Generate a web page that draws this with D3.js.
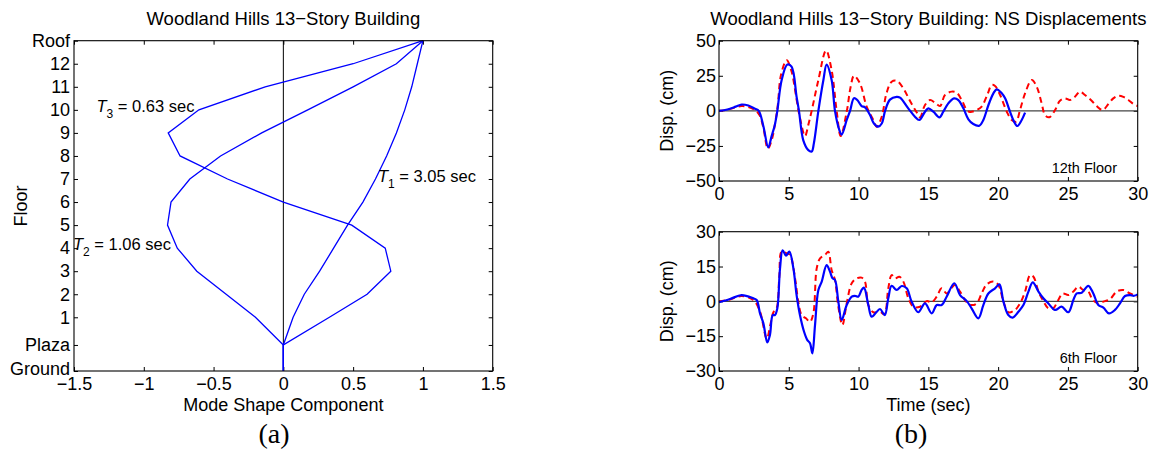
<!DOCTYPE html>
<html>
<head>
<meta charset="utf-8">
<script src="https://cdn.jsdelivr.net/npm/d3@7"></script>
<style>
  html, body { margin: 0; padding: 0; background: #fff; }
  svg { display: block; }
</style>
</head>
<body>
<svg id="fig" width="1154" height="450"></svg>
<script>
// ---------- (a) mode shapes ----------
const levelNames   = ["Ground", "Plaza", "1", "2", "3", "4", "5", "6", "7", "8", "9", "10", "11", "12", "Roof"];
const levelHeights = [-1.33, -0.2, 1, 2, 3, 4, 5, 6, 7, 8, 9, 10, 11, 12, 13];
const mode1 = [0, 0, 0.07, 0.15, 0.26, 0.36, 0.46, 0.57, 0.66, 0.74, 0.81, 0.87, 0.92, 0.96, 1.0];
const mode2 = [0, 0, -0.2, -0.41, -0.62, -0.76, -0.83, -0.805, -0.67, -0.45, -0.155, 0.175, 0.5, 0.81, 1.0];
const mode3 = [0, 0, 0.33, 0.6, 0.77, 0.73, 0.49, 0, -0.4, -0.74, -0.825, -0.605, -0.13, 0.5, 1.0];
const modeTicks  = [-1.5, -1, -0.5, 0, 0.5, 1, 1.5];
const modeLabels = ["\u22121.5", "\u22121", "\u22120.5", "0", "0.5", "1", "1.5"];

// ---------- (b) displacement histories ----------
const timeTicks  = [0, 5, 10, 15, 20, 25, 30];
const timeLabels = ["0", "5", "10", "15", "20", "25", "30"];
const disp12Ticks  = [-50, -25, 0, 25, 50];
const disp12Labels = ["\u221250", "\u221225", "0", "25", "50"];
const disp6Ticks   = [-30, -15, 0, 15, 30];
const disp6Labels  = ["\u221230", "\u221215", "0", "15", "30"];

// 12th floor, recorded (solid)
const t12Rec = [0, 0.6, 1.2, 1.62, 2.1, 2.58, 2.85, 3.18, 3.53, 3.77, 4.0, 4.18, 4.49, 4.9, 5.2, 5.56, 5.73, 6.04, 6.4, 6.64, 6.8, 7.12, 7.48, 7.71, 8.07, 8.31, 8.62, 8.79, 9.15, 9.39, 9.67, 9.91, 10.22, 10.46, 10.82, 11.1, 11.41, 11.66, 11.9, 12.25, 12.73, 12.97, 13.56, 14.04, 14.35, 14.76, 15.0, 15.36, 15.79, 16.07, 16.43, 16.84, 17.15, 17.51, 17.87, 18.22, 18.65, 18.94, 19.3, 19.66, 19.9, 20.26, 20.5, 20.85, 21.14, 21.38, 21.69, 21.93];
const d12Rec = [0, 1, 3, 4.5, 3.8, 1.5, 0, -11, -26, -18, -10, 0, 22, 33, 31.5, 10, 0, -21, -28, -29, -23, 0, 22, 33, 22, 0, -13.6, -17, -6.5, 0, 9, 7.7, 3.4, 2.5, -3, -9, -11.3, -9, 0, 8, 10, 9.4, 1.8, -4.2, -6.5, -0.6, 1.8, -0.6, -4.6, -0.6, 5.3, 8.9, 7.7, 1.8, -6, -9.4, -10.6, -6.5, 4, 12.5, 15.3, 12.5, 8.9, -0.6, -7.7, -10.8, -6.5, -1.3];
// 12th floor, model (dashed)
const t12Mod = [0, 0.6, 1.2, 1.62, 2.1, 2.58, 2.9, 3.18, 3.5, 3.8, 4.0, 4.2, 4.45, 4.85, 5.2, 5.56, 5.8, 6.16, 6.4, 6.64, 7.12, 7.67, 8.07, 8.43, 8.72, 9.15, 9.43, 9.67, 10.1, 10.58, 11.06, 11.3, 11.66, 12.0, 12.37, 12.73, 13.21, 13.69, 14.16, 14.4, 14.76, 15.12, 15.48, 15.84, 16.19, 16.67, 17.03, 17.39, 17.75, 17.99, 18.46, 18.82, 19.22, 19.54, 19.78, 20.14, 20.62, 20.97, 21.28, 21.57, 21.93, 22.41, 22.77, 23.12, 23.36, 23.67, 24.08, 24.43, 24.79, 25.15, 25.5, 25.86, 26.22, 26.7, 27.06, 27.49, 27.9, 28.25, 28.61, 28.97, 29.33, 29.69, 30];
const d12Mod = [0, 0.8, 2.5, 3.4, 2.8, 0.6, -3, -12, -27, -20, -10, 3, 26, 36, 28, 8, -5, -18, -10, 0, 22, 43, 29, 0, -18, -0.6, 17, 25, 19.6, 3, -6.5, -11.3, -4.2, 12.5, 20.8, 21.5, 16, 7, -1, -4.5, 4.2, 7.7, 5.8, 3.4, 11.3, 13.7, 12.9, 7.7, 0.6, -0.8, 0.6, 3, 11.3, 18.4, 17.7, 11.3, -0.6, -6.5, -7.7, 0.6, 12.5, 22, 17, 5.3, -3, -4.6, 0.6, 7.2, 8.9, 7.7, 10, 13.7, 11.3, 7.2, 3.4, 0.6, 4.9, 8.9, 10.8, 10, 7.7, 4.9, 3.4];

// 6th floor, recorded (solid)
const t6Rec = [0, 0.79, 1.62, 2.46, 2.7, 2.94, 3.18, 3.46, 3.65, 3.85, 4.01, 4.18, 4.37, 4.56, 4.8, 5.04, 5.33, 5.56, 5.8, 6.09, 6.33, 6.52, 6.69, 6.88, 7.12, 7.36, 7.71, 7.95, 8.14, 8.31, 8.55, 8.79, 9.15, 9.51, 9.74, 9.98, 10.22, 10.39, 10.7, 10.94, 11.3, 11.54, 11.77, 11.89, 12.13, 12.37, 12.73, 13.09, 13.45, 13.8, 14.28, 14.76, 15.24, 15.6, 15.95, 16.31, 16.86, 17.27, 17.75, 18.1, 18.58, 18.94, 19.3, 19.78, 20.09, 20.38, 20.73, 21.04, 21.45, 21.81, 22.17, 22.48, 22.89, 23.24, 23.6, 24.08, 24.55, 25.03, 25.39, 25.63, 25.99, 26.46, 26.82, 27.18, 27.54, 27.94, 28.37, 28.73, 29.09, 29.45, 29.74, 30];
const d6Rec = [-0.4, 1, 2.7, 1.3, 0.6, -5.2, -9.5, -17.7, -14.5, -5.9, -5.9, -3, 14, 22, 19.7, 21.4, 14.2, 2.7, -5.9, -13, -16.7, -18, -22.4, -10.2, 4.9, 8.5, 15.6, 12.8, 9.9, 9.2, -0.1, -8, -1.6, 2, 2.4, 2, 4.9, 5.9, -1.6, -6.6, -4.5, -3.3, -5.2, -5.9, 1.3, 6.7, 4.9, 6.6, 5.6, -0.1, -4.7, -0.9, -5.2, -1.6, -1.6, 2, 7.8, 2.7, 0.1, -3, -7.3, -1.6, 3.4, 5.6, 7.3, -0.1, -5.9, -7, -4.5, -1.6, 4.2, 8.2, 4.2, 1.3, -0.9, -3.7, -2.3, -4.7, 0.6, 3.4, 3.7, 6.7, 3.4, -1.6, -2.7, -5.2, -3.7, -0.9, 2.3, 2.7, 2.4, 3];
// 6th floor, model (dashed)
const t6Mod = [0, 0.79, 1.62, 2.46, 2.94, 3.42, 3.7, 3.9, 4.13, 4.32, 4.49, 4.85, 5.09, 5.45, 5.68, 5.92, 6.23, 6.52, 6.76, 7.0, 7.24, 7.6, 7.83, 8.07, 8.31, 8.55, 8.84, 9.15, 9.51, 9.86, 10.22, 10.46, 10.7, 11.06, 11.54, 11.85, 12.13, 12.37, 12.61, 12.92, 13.21, 13.57, 13.92, 14.4, 14.88, 15.24, 15.6, 15.95, 16.31, 16.67, 16.91, 17.27, 17.75, 18.1, 18.46, 18.82, 19.18, 19.66, 20.02, 20.38, 20.73, 21.21, 21.57, 21.93, 22.29, 22.53, 22.89, 23.24, 23.6, 23.95, 24.31, 24.63, 25.03, 25.39, 25.75, 26.1, 26.46, 26.78, 27.18, 27.54, 28.02, 28.49, 28.97, 29.45, 30];
const d6Mod = [0, 0.8, 2.3, 0.6, -4.5, -16, -9.5, -4.7, -3, 10.6, 21.4, 20.7, 20, 9.9, -0.1, -5.9, -7.3, -8.8, -5.2, 14.2, 18.5, 20, 21.4, 13.5, 9.2, -2.3, -10.2, -0.9, 7.8, 9.9, 10.2, 8.5, -1.6, -4.7, -4.5, -5.6, 5.6, 11.3, 9.9, 10.6, 8.5, 1.3, -2.3, -2.3, 0.1, -0.4, 2, 5.6, 3.4, 5.9, 7, 4.2, -0.4, -1.6, -0.9, 3.4, 7.3, 8.5, 7, -0.1, -4.7, -3.7, -0.9, 4.2, 11.3, 10.6, 4.2, 0.1, -3, -3, 0.6, 3.4, 2.7, 4.2, 6.3, 4.9, 4.2, 0.6, -0.9, -0.1, 1, 4.2, 4.9, 3.4, 2];

// ---------- drawing ----------
const SANS = "'Liberation Sans', Arial, Helvetica, sans-serif";
const SERIF = "'Liberation Serif', 'Times New Roman', serif";
const FS = 18;
const svg = d3.select("#fig");
svg.append("rect").attr("width", 1154).attr("height", 450).attr("fill", "#fff");

// MATLAB-style box with inward ticks on all four sides
function boxAxes(x, y, xt, xl, yt, yl, yPad) {
  const [xa, xb] = x.range();
  const [yb, ya] = y.range();
  const g = svg.append("g");
  const fmt = labels => (d, i) => labels ? labels[i] : "";
  const bottom = d3.axisBottom(x).tickValues(xt).tickFormat(fmt(xl)).tickSizeInner(-4).tickSizeOuter(0).tickPadding(6);
  const top    = d3.axisTop(x).tickValues(xt).tickFormat(fmt(null)).tickSizeInner(-4).tickSizeOuter(0);
  const left   = d3.axisLeft(y).tickValues(yt).tickFormat(fmt(yl)).tickSizeInner(-4).tickSizeOuter(0).tickPadding(yPad);
  const right  = d3.axisRight(y).tickValues(yt).tickFormat(fmt(null)).tickSizeInner(-4).tickSizeOuter(0);
  g.append("g").attr("transform", `translate(0,${yb})`).call(bottom);
  g.append("g").attr("transform", `translate(0,${ya})`).call(top);
  g.append("g").attr("transform", `translate(${xa},0)`).call(left);
  g.append("g").attr("transform", `translate(${xb},0)`).call(right);
  g.selectAll(".domain").remove();
  g.selectAll("g").attr("font-family", SANS).attr("font-size", FS);
  g.selectAll("text").attr("fill", "#000");
  g.selectAll(".tick line").attr("stroke", "#000").attr("stroke-width", 1);
  return g;
}
function frame(x, y) {
  const [xa, xb] = x.range();
  const [yb, ya] = y.range();
  svg.append("rect").attr("x", xa).attr("y", ya).attr("width", xb - xa).attr("height", yb - ya)
    .attr("fill", "none").attr("stroke", "#000").attr("stroke-width", 1.1);
}
function label(txt, x, y, opts = {}) {
  const t = svg.append("text").attr("x", x).attr("y", y)
    .attr("font-family", opts.family || SANS).attr("font-size", opts.size || FS)
    .attr("text-anchor", opts.anchor || "middle").attr("fill", "#000").text(txt);
  if (opts.rotate) t.attr("transform", `rotate(-90,${x},${y})`);
  return t;
}

// ----- panel (a) -----
const xA = d3.scaleLinear().domain([-1.5, 1.5]).range([74, 492.7]);
const yA = d3.scaleLinear().domain([-1.33, 13]).range([371, 40.7]);
svg.append("line").attr("x1", xA(0)).attr("x2", xA(0)).attr("y1", yA(-1.33)).attr("y2", yA(13))
  .attr("stroke", "#000").attr("stroke-width", 1);
const axA = boxAxes(xA, yA, modeTicks, modeLabels, levelHeights, levelNames, 4);
// the lowest level name sits just above the bottom axis labels
axA.selectAll(".tick text").filter(d => d === levelHeights[0]).attr("dy", "0.2em");

const modeLine = d3.line().x(d => xA(d[0])).y(d => yA(d[1]));
[mode3, mode2, mode1].forEach(m => {
  svg.append("path").datum(m.map((v, i) => [v, levelHeights[i]]))
    .attr("d", modeLine).attr("fill", "none").attr("stroke", "#0000ff").attr("stroke-width", 1.3);
});
frame(xA, yA);

function periodLabel(sub, rest, x, y) {
  const t = svg.append("text").attr("x", x).attr("y", y).attr("font-family", SANS).attr("font-size", 16.5).attr("fill", "#000");
  t.append("tspan").attr("font-style", "italic").text("T");
  t.append("tspan").attr("font-size", 12).attr("dy", 6).text(sub);
  t.append("tspan").attr("dy", -6).text(" = " + rest);
}
periodLabel("3", "0.63 sec", 96.5, 112);
periodLabel("1", "3.05 sec", 378, 181.5);
periodLabel("2", "1.06 sec", 73, 250);

label("Woodland Hills 13\u2212Story Building", xA(0), 25, { size: 18.5 });
label("Floor", 27, 206, { rotate: true });
label("Mode Shape Component", xA(0), 410.5);
label("(a)", 274, 443, { family: SERIF, size: 28 });

// ----- panel (b) -----
const xB = d3.scaleLinear().domain([0, 30]).range([719, 1137.7]);
const y12 = d3.scaleLinear().domain([-50, 50]).range([181, 40.7]);
const y6  = d3.scaleLinear().domain([-30, 30]).range([371, 231.7]);

function historyPanel(y, yt, yl, tR, dR, tM, dM, floorText) {
  boxAxes(xB, y, timeTicks, timeLabels, yt, yl, 3);
  svg.append("line").attr("x1", xB(0)).attr("x2", xB(30)).attr("y1", y(0)).attr("y2", y(0))
    .attr("stroke", "#444").attr("stroke-width", 1.3);
  const line = d3.line().x(d => xB(d[0])).y(d => y(d[1])).curve(d3.curveCatmullRom.alpha(0.5));
  svg.append("path").datum(tM.map((t, i) => [t, dM[i]])).attr("d", line)
    .attr("fill", "none").attr("stroke", "#ff0000").attr("stroke-width", 2).attr("stroke-dasharray", "6,4");
  svg.append("path").datum(tR.map((t, i) => [t, dR[i]])).attr("d", line)
    .attr("fill", "none").attr("stroke", "#0000ff").attr("stroke-width", 2.2);
  frame(xB, y);
  const [yb, ya] = y.range();
  label(floorText, 1117, yb - 8, { anchor: "end", size: 14.5 });
  label("Disp. (cm)", 673, (ya + yb) / 2, { rotate: true });
}
historyPanel(y12, disp12Ticks, disp12Labels, t12Rec, d12Rec, t12Mod, d12Mod, "12th Floor");
historyPanel(y6, disp6Ticks, disp6Labels, t6Rec, d6Rec, t6Mod, d6Mod, "6th Floor");

label("Woodland Hills 13\u2212Story Building: NS Displacements", (xB(0) + xB(30)) / 2, 25, { size: 18.5 });
label("Time (sec)", (xB(0) + xB(30)) / 2, 410.5);
label("(b)", 911, 443, { family: SERIF, size: 28 });
</script>
</body>
</html>
